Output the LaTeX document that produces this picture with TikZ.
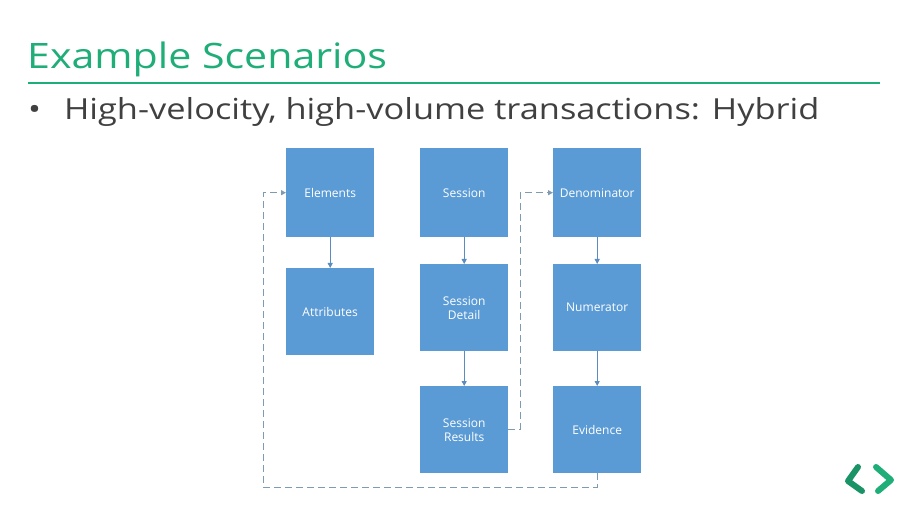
\documentclass[tikz,border=0pt]{standalone}
\usepackage{fontspec}
\setmainfont{Open Sans}
\newfontfamily\ttlfont[FakeStretch=1.175]{Open Sans}
\newfontfamily\bulfont[FakeStretch=1.185]{Open Sans}
\usetikzlibrary{arrows.meta}
\definecolor{ttlgreen}{HTML}{1FAD78}
\definecolor{boxblue}{HTML}{5B9BD5}
\definecolor{arrblue}{HTML}{5A8CC0}
\definecolor{dashgray}{HTML}{7E9BB4}
\definecolor{txtgray}{HTML}{404040}
\tikzset{
  x=1pt,y=-1pt,
  blk/.style={fill=boxblue,draw=none,minimum width=88pt,minimum height=88pt,inner sep=2pt,text=white,font=\fontsize{12}{14}\selectfont,align=center,anchor=north west},
  flow/.style={draw=arrblue,line width=1pt,-{Triangle[length=5pt,width=5pt]}},
  loopline/.style={draw=dashgray,line width=0.9pt,dash pattern=on 7pt off 4pt,-{Triangle[length=5pt,width=5pt]}},
}
\begin{document}
\begin{tikzpicture}
\useasboundingbox (0,0) rectangle (907,510);
\fill[white] (0,0) rectangle (907,510);
% title
\node[anchor=base west,inner sep=0,text=ttlgreen,font=\ttlfont\fontsize{35}{40}\selectfont] (title) at (27,69) {Example Scenarios};
\draw[ttlgreen,line width=2.5pt] (28,83) -- (880,83);
\node[anchor=base west,inner sep=0,text=txtgray,font=\bulfont\fontsize{29}{34}\selectfont] (bullet) at (28,120) {\textbullet\hspace{23pt}High-velocity, high-volume transactions: Hybrid};
% boxes
\node[blk,minimum height=89pt] (elem) at (286,148) {Elements};
\node[blk,minimum height=87pt] (attr) at (286,268) {Attributes};
\node[blk,minimum height=89pt] (sess) at (420,148) {Session};
\node[blk,minimum height=87pt] (sdet) at (420,264) {Session\\Detail};
\node[blk,minimum height=87pt] (sres) at (420,386) {Session\\Results};
\node[blk,minimum height=89pt] (deno) at (553,148) {Denominator};
\node[blk,minimum height=87pt] (nume) at (553,264) {Numerator};
\node[blk,minimum height=87pt] (evid) at (553,386) {Evidence};
% flows
\draw[flow] (elem.south) -- (attr.north);
\draw[flow] (sess.south) -- (sdet.north);
\draw[flow] (sdet.south) -- (sres.north);
\draw[flow] (deno.south) -- (nume.north);
\draw[flow] (nume.south) -- (evid.north);
% dashed loops
\coordinate (c1) at (263,487);
\draw[loopline] (evid.south) -- (evid.south |- c1) -- (c1) -- (c1 |- elem.west) -- (elem.west);
\coordinate (c2) at (520,429);
\draw[loopline] (sres.east |- c2) -- (c2) -- (c2 |- deno.west) -- (deno.west);
% logo
\draw[ttlgreen!85!black,line width=6pt,line cap=round,line join=round] (858,467) -- (848,481) -- (862,491);
\draw[ttlgreen,line width=6pt,line cap=round,line join=round] (876,467) -- (891,480) -- (878,491);
\end{tikzpicture}
\end{document}
